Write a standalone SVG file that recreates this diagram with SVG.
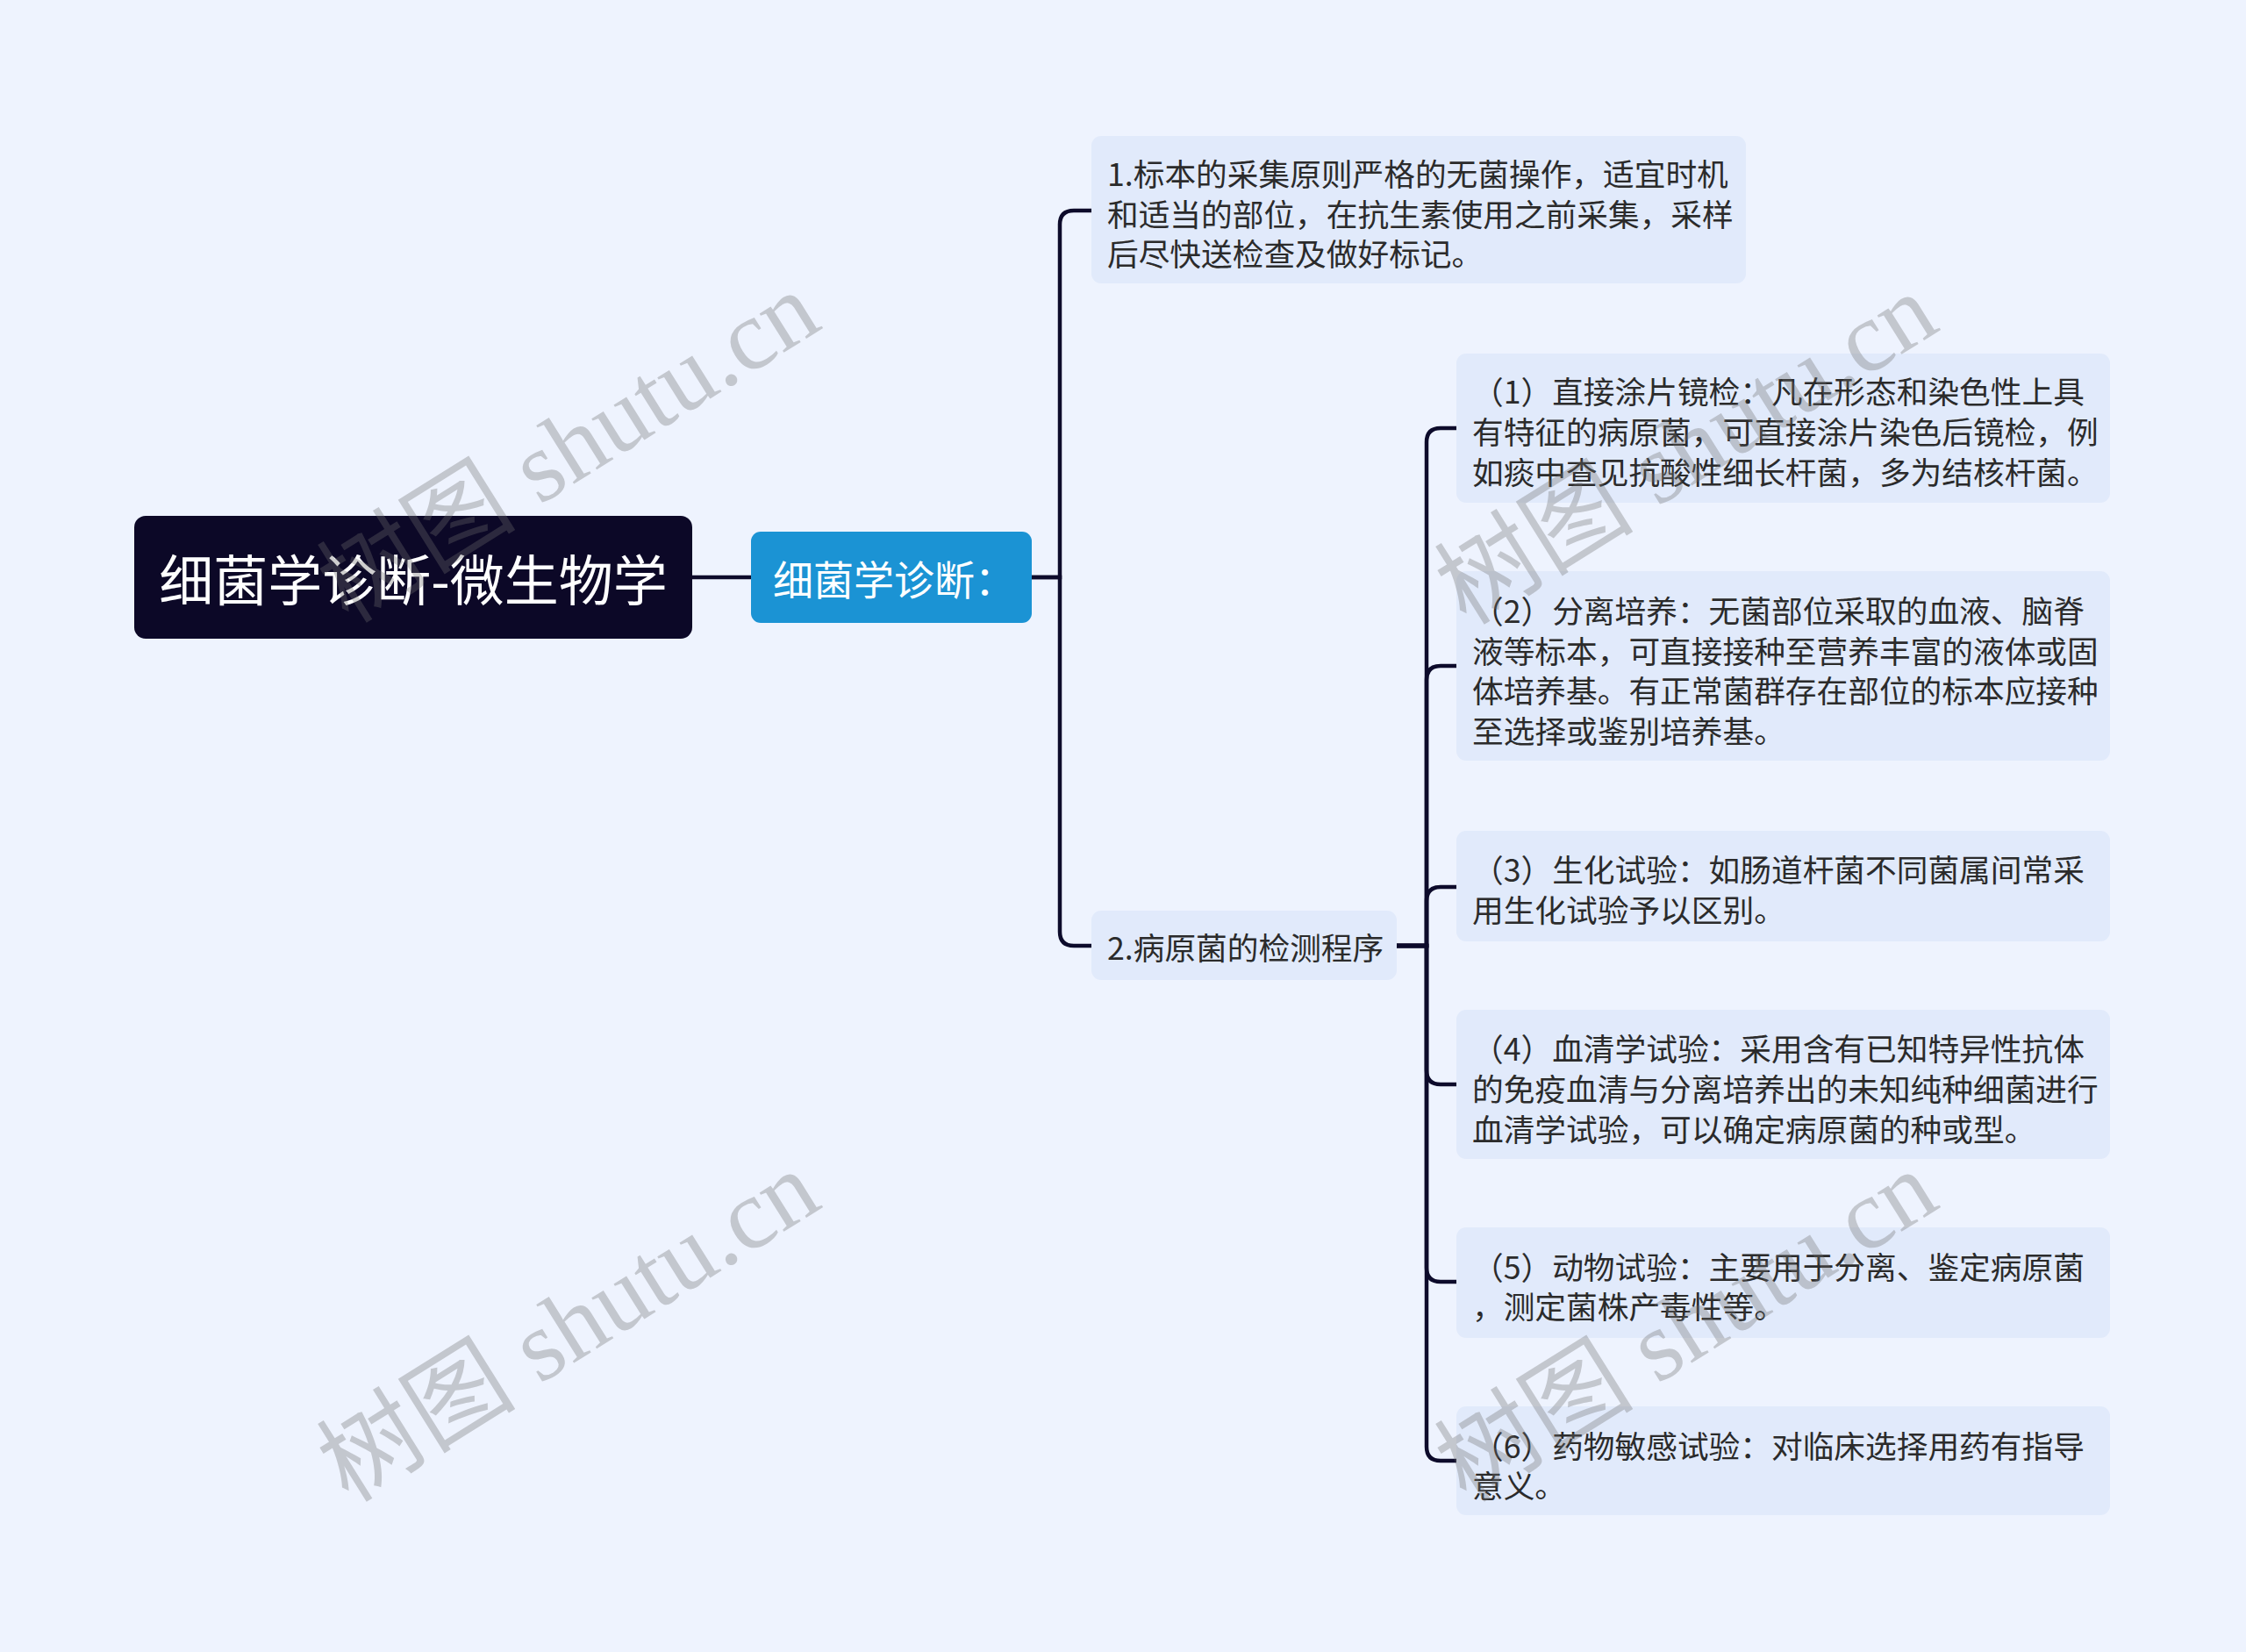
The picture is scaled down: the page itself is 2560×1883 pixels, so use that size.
<svg xmlns="http://www.w3.org/2000/svg" width="2560" height="1883" viewBox="0 0 2560 1883">
<style>
.t{font-family:"Noto Sans CJK SC","Noto Sans",sans-serif;font-size:35.7px;fill:#2b2b2b;dominant-baseline:central}
.box{fill:#e1eafb}
.con{fill:none;stroke:#0d0b2b;stroke-width:4.5;stroke-linecap:round}
.wm{font-family:"Liberation Serif","Noto Sans CJK SC",serif;font-size:114px;fill:#6e6e6e;fill-opacity:0.33;text-anchor:middle;dominant-baseline:central}
</style>
<rect width="2560" height="1883" fill="#eef3fe"/>
<g id="connectors">
<path class="con" d="M789 658 H856"/>
<path class="con" d="M1176 658 H1208 V256 Q1208 240 1224 240 H1244"/>
<path class="con" d="M1176 658 H1208 V1062 Q1208 1078 1224 1078 H1244"/>
<path class="con" d="M1592 1078 H1626 V504 Q1626 488 1642 488 H1660"/>
<path class="con" d="M1592 1078 H1626 V775 Q1626 759 1642 759 H1660"/>
<path class="con" d="M1592 1078 H1626 V1027 Q1626 1011 1642 1011 H1660"/>
<path class="con" d="M1592 1078 H1626 V1220 Q1626 1236 1642 1236 H1660"/>
<path class="con" d="M1592 1078 H1626 V1445 Q1626 1461 1642 1461 H1660"/>
<path class="con" d="M1592 1078 H1626 V1649 Q1626 1665 1642 1665 H1660"/>
</g>
<g id="root">
<rect x="153" y="588" width="636" height="140" rx="13" fill="#0c0827"/>
<text x="471" y="658" text-anchor="middle" style="font-family:'Noto Sans CJK SC',sans-serif;font-size:62px;fill:#ffffff;dominant-baseline:central">细菌学诊断-微生物学</text>
</g>
<g id="n-main">
<rect x="856" y="606" width="320" height="104" rx="11" fill="#1b93d4"/>
<text x="881" y="658" style="font-family:'Noto Sans CJK SC',sans-serif;font-size:46px;fill:#ffffff;dominant-baseline:central">细菌学诊断：</text>
</g>
<g id="n1">
<rect class="box" x="1244" y="155" width="746" height="168" rx="11"/>
<text class="t"><tspan x="1262" y="196">1.标本的采集原则严格的无菌操作，适宜时机</tspan><tspan x="1262" y="242">和适当的部位，在抗生素使用之前采集，采样</tspan><tspan x="1262" y="287">后尽快送检查及做好标记。</tspan></text>
</g>
<g id="n2">
<rect class="box" x="1244" y="1038" width="348" height="79" rx="11"/>
<text class="t" x="1262" y="1078">2.病原菌的检测程序</text>
</g>
<g id="c1">
<rect class="box" x="1660" y="403" width="745" height="170" rx="11"/>
<text class="t"><tspan x="1678" y="444">（1）直接涂片镜检：凡在形态和染色性上具</tspan><tspan x="1678" y="490">有特征的病原菌，可直接涂片染色后镜检，例</tspan><tspan x="1678" y="536">如痰中查见抗酸性细长杆菌，多为结核杆菌。</tspan></text>
</g>
<g id="c2">
<rect class="box" x="1660" y="651" width="745" height="216" rx="11"/>
<text class="t"><tspan x="1678" y="694">（2）分离培养：无菌部位采取的血液、脑脊</tspan><tspan x="1678" y="740">液等标本，可直接接种至营养丰富的液体或固</tspan><tspan x="1678" y="785">体培养基。有正常菌群存在部位的标本应接种</tspan><tspan x="1678" y="831">至选择或鉴别培养基。</tspan></text>
</g>
<g id="c3">
<rect class="box" x="1660" y="947" width="745" height="126" rx="11"/>
<text class="t"><tspan x="1678" y="989">（3）生化试验：如肠道杆菌不同菌属间常采</tspan><tspan x="1678" y="1035">用生化试验予以区别。</tspan></text>
</g>
<g id="c4">
<rect class="box" x="1660" y="1151" width="745" height="170" rx="11"/>
<text class="t"><tspan x="1678" y="1193">（4）血清学试验：采用含有已知特异性抗体</tspan><tspan x="1678" y="1239">的免疫血清与分离培养出的未知纯种细菌进行</tspan><tspan x="1678" y="1285">血清学试验，可以确定病原菌的种或型。</tspan></text>
</g>
<g id="c5">
<rect class="box" x="1660" y="1399" width="745" height="126" rx="11"/>
<text class="t"><tspan x="1678" y="1442">（5）动物试验：主要用于分离、鉴定病原菌</tspan><tspan x="1678" y="1487">，测定菌株产毒性等。</tspan></text>
</g>
<g id="c6">
<rect class="box" x="1660" y="1603" width="745" height="124" rx="11"/>
<text class="t"><tspan x="1678" y="1646">（6）药物敏感试验：对临床选择用药有指导</tspan><tspan x="1678" y="1691">意义。</tspan></text>
</g>
<g id="watermarks">
<text class="wm" transform="translate(648 510) rotate(-32)">树图 shutu.cn</text>
<text class="wm" transform="translate(1922 512) rotate(-32)">树图 shutu.cn</text>
<text class="wm" transform="translate(648 1512) rotate(-32)">树图 shutu.cn</text>
<text class="wm" transform="translate(1922 1512) rotate(-32)">树图 shutu.cn</text>
</g>
</svg>
